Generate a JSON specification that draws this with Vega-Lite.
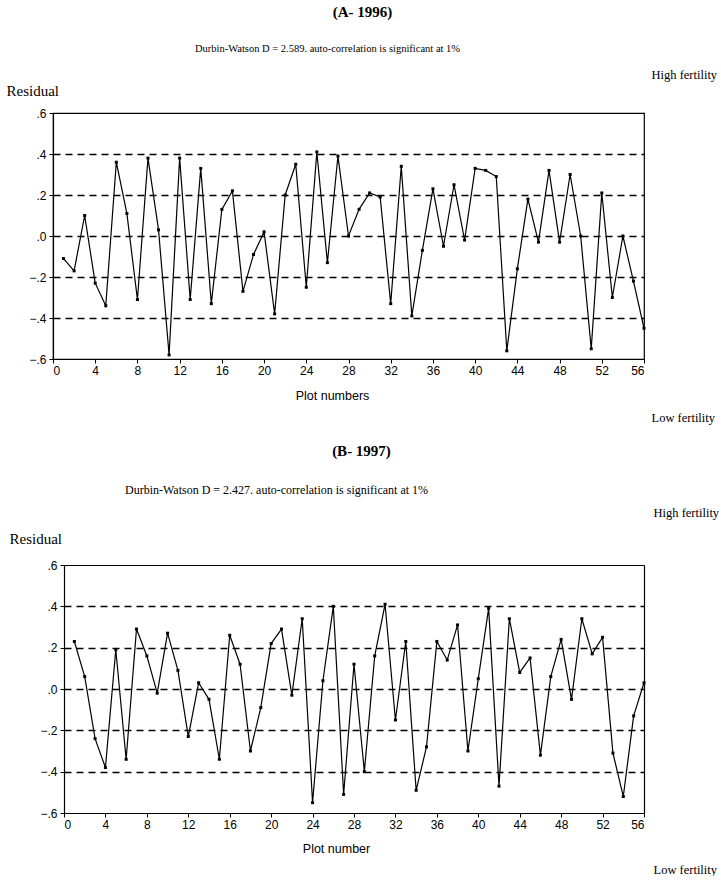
{
  "$schema": "https://vega.github.io/schema/vega-lite/v6.json",
  "background": "white",
  "padding": {"left": 5, "top": 4, "right": 0, "bottom": 0},
  "datasets": {
    "a": [
      {"plot": 1, "residual": -0.11}, {"plot": 2, "residual": -0.17}, {"plot": 3, "residual": 0.10}, {"plot": 4, "residual": -0.23},
      {"plot": 5, "residual": -0.34}, {"plot": 6, "residual": 0.36}, {"plot": 7, "residual": 0.11}, {"plot": 8, "residual": -0.31},
      {"plot": 9, "residual": 0.38}, {"plot": 10, "residual": 0.03}, {"plot": 11, "residual": -0.58}, {"plot": 12, "residual": 0.38},
      {"plot": 13, "residual": -0.31}, {"plot": 14, "residual": 0.33}, {"plot": 15, "residual": -0.33}, {"plot": 16, "residual": 0.13},
      {"plot": 17, "residual": 0.22}, {"plot": 18, "residual": -0.27}, {"plot": 19, "residual": -0.09}, {"plot": 20, "residual": 0.02},
      {"plot": 21, "residual": -0.38}, {"plot": 22, "residual": 0.20}, {"plot": 23, "residual": 0.35}, {"plot": 24, "residual": -0.25},
      {"plot": 25, "residual": 0.41}, {"plot": 26, "residual": -0.13}, {"plot": 27, "residual": 0.39}, {"plot": 28, "residual": 0.00},
      {"plot": 29, "residual": 0.13}, {"plot": 30, "residual": 0.21}, {"plot": 31, "residual": 0.19}, {"plot": 32, "residual": -0.33},
      {"plot": 33, "residual": 0.34}, {"plot": 34, "residual": -0.39}, {"plot": 35, "residual": -0.07}, {"plot": 36, "residual": 0.23},
      {"plot": 37, "residual": -0.05}, {"plot": 38, "residual": 0.25}, {"plot": 39, "residual": -0.02}, {"plot": 40, "residual": 0.33},
      {"plot": 41, "residual": 0.32}, {"plot": 42, "residual": 0.29}, {"plot": 43, "residual": -0.56}, {"plot": 44, "residual": -0.16},
      {"plot": 45, "residual": 0.18}, {"plot": 46, "residual": -0.03}, {"plot": 47, "residual": 0.32}, {"plot": 48, "residual": -0.03},
      {"plot": 49, "residual": 0.30}, {"plot": 50, "residual": 0.00}, {"plot": 51, "residual": -0.55}, {"plot": 52, "residual": 0.21},
      {"plot": 53, "residual": -0.30}, {"plot": 54, "residual": 0.00}, {"plot": 55, "residual": -0.22}, {"plot": 56, "residual": -0.45}
    ],
    "b": [
      {"plot": 1, "residual": 0.23}, {"plot": 2, "residual": 0.06}, {"plot": 3, "residual": -0.24}, {"plot": 4, "residual": -0.38},
      {"plot": 5, "residual": 0.19}, {"plot": 6, "residual": -0.34}, {"plot": 7, "residual": 0.29}, {"plot": 8, "residual": 0.16},
      {"plot": 9, "residual": -0.02}, {"plot": 10, "residual": 0.27}, {"plot": 11, "residual": 0.09}, {"plot": 12, "residual": -0.23},
      {"plot": 13, "residual": 0.03}, {"plot": 14, "residual": -0.05}, {"plot": 15, "residual": -0.34}, {"plot": 16, "residual": 0.26},
      {"plot": 17, "residual": 0.12}, {"plot": 18, "residual": -0.30}, {"plot": 19, "residual": -0.09}, {"plot": 20, "residual": 0.22},
      {"plot": 21, "residual": 0.29}, {"plot": 22, "residual": -0.03}, {"plot": 23, "residual": 0.34}, {"plot": 24, "residual": -0.55},
      {"plot": 25, "residual": 0.04}, {"plot": 26, "residual": 0.40}, {"plot": 27, "residual": -0.51}, {"plot": 28, "residual": 0.12},
      {"plot": 29, "residual": -0.40}, {"plot": 30, "residual": 0.16}, {"plot": 31, "residual": 0.41}, {"plot": 32, "residual": -0.15},
      {"plot": 33, "residual": 0.23}, {"plot": 34, "residual": -0.49}, {"plot": 35, "residual": -0.28}, {"plot": 36, "residual": 0.23},
      {"plot": 37, "residual": 0.14}, {"plot": 38, "residual": 0.31}, {"plot": 39, "residual": -0.30}, {"plot": 40, "residual": 0.05},
      {"plot": 41, "residual": 0.39}, {"plot": 42, "residual": -0.47}, {"plot": 43, "residual": 0.34}, {"plot": 44, "residual": 0.08},
      {"plot": 45, "residual": 0.15}, {"plot": 46, "residual": -0.32}, {"plot": 47, "residual": 0.06}, {"plot": 48, "residual": 0.24},
      {"plot": 49, "residual": -0.05}, {"plot": 50, "residual": 0.34}, {"plot": 51, "residual": 0.17}, {"plot": 52, "residual": 0.25},
      {"plot": 53, "residual": -0.31}, {"plot": 54, "residual": -0.52}, {"plot": 55, "residual": -0.13}, {"plot": 56, "residual": 0.03}
    ]
  },
  "spacing": 19,
  "vconcat": [
    {
      "title": {"text": "(A- 1996)", "dx": 14, "offset": 23},
      "width": 591,
      "height": 246,
      "data": {"name": "a"},
      "layer": [
        {
          "mark": {"type": "line", "color": "black", "strokeWidth": 1.2},
          "encoding": {
            "x": {"field": "plot", "type": "quantitative", "scale": {"domain": [0, 56], "nice": false},
              "axis": {"orient": "bottom", "values": [0, 4, 8, 12, 16, 20, 24, 28, 32, 36, 40, 44, 48, 52, 56], "tickSize": 4, "labelPadding": 2,
                "title": "Plot numbers", "titleFont": "Liberation Sans", "titleFontSize": 12.5, "titleX": 279, "titleY": 36, "titleAlign": "center", "titleBaseline": "middle"}},
            "y": {"field": "residual", "type": "quantitative", "scale": {"domain": [-0.6, 0.6], "nice": false},
              "axis": {"orient": "left", "values": [-0.6, -0.4, -0.2, 0, 0.2, 0.4, 0.6], "labelExpr": "replace(format(datum.value, '.1f'), '0.', '.')",
                "tickSize": 4, "labelPadding": 3,
                "grid": true, "gridDash": [7, 5], "gridColor": "black", "gridWidth": 1.3,
                "gridOpacity": {"condition": {"test": "abs(datum.value) > 0.5", "value": 0}, "value": 1},
                "title": "Residual", "titleAngle": 0, "titleAlign": "left", "titleBaseline": "middle", "titleX": -47, "titleY": -23,
                "titleFont": "Liberation Serif", "titleFontSize": 15}}
          }
        },
        {
          "mark": {"type": "point", "shape": "square", "filled": true, "color": "black", "size": 9, "opacity": 1},
          "encoding": {
            "x": {"field": "plot", "type": "quantitative",
              "axis": {"orient": "top", "labels": false, "ticks": false, "domain": false, "grid": false,
                "title": "Durbin-Watson  D = 2.589.  auto-correlation is significant at 1%", "titleFont": "Liberation Serif", "titleFontSize": 10.5,
                "titleX": 274, "titleY": -65, "titleAlign": "center", "titleBaseline": "middle"}},
            "y": {"field": "residual", "type": "quantitative",
              "axis": {"orient": "right", "labels": false, "ticks": false, "domain": false, "grid": false,
                "title": ["High fertility", "Low fertility"], "titleAngle": 0, "titleAlign": "left", "titleBaseline": "top",
                "titleX": 7, "titleY": -45, "titleLineHeight": 343, "titleFont": "Liberation Serif", "titleFontSize": 12.5}}
          }
        }
      ],
      "resolve": {"axis": {"x": "independent", "y": "independent"}}
    },
    {
      "title": {"text": "(B- 1997)", "dx": 13, "offset": 24},
      "width": 591,
      "height": 248,
      "view": {"stroke": null},
      "data": {"name": "b"},
      "layer": [
        {
          "mark": {"type": "line", "color": "black", "strokeWidth": 1.2},
          "encoding": {
            "x": {"field": "plot", "type": "quantitative", "scale": {"domain": [0, 56], "nice": false, "range": [11, 591]},
              "axis": {"orient": "bottom", "values": [0, 4, 8, 12, 16, 20, 24, 28, 32, 36, 40, 44, 48, 52, 56], "tickSize": 4, "labelPadding": 2,
                "title": "Plot number", "titleFont": "Liberation Sans", "titleFontSize": 12.5, "titleX": 283, "titleY": 35, "titleAlign": "center", "titleBaseline": "middle"}},
            "y": {"field": "residual", "type": "quantitative", "scale": {"domain": [-0.6, 0.6], "nice": false},
              "axis": {"orient": "left", "offset": -11, "values": [-0.6, -0.4, -0.2, 0, 0.2, 0.4, 0.6], "labelExpr": "replace(format(datum.value, '.1f'), '0.', '.')",
                "tickSize": 4, "labelPadding": 3,
                "grid": true, "gridDash": [7, 5], "gridColor": "black", "gridWidth": 1.3,
                "gridOpacity": {"condition": {"test": "abs(datum.value) > 0.5", "value": 0}, "value": 1},
                "title": "Residual", "titleAngle": 0, "titleAlign": "left", "titleBaseline": "middle", "titleX": -55, "titleY": -27,
                "titleFont": "Liberation Serif", "titleFontSize": 15}}
          }
        },
        {
          "mark": {"type": "point", "shape": "square", "filled": true, "color": "black", "size": 9, "opacity": 1},
          "encoding": {
            "x": {"field": "plot", "type": "quantitative",
              "axis": {"orient": "top", "labels": false, "ticks": false, "domain": true, "grid": false,
                "title": "Durbin-Watson  D = 2.427.  auto-correlation is significant at 1%", "titleFont": "Liberation Serif", "titleFontSize": 12,
                "titleX": 223, "titleY": -76, "titleAlign": "center", "titleBaseline": "middle"}},
            "y": {"field": "residual", "type": "quantitative",
              "axis": {"orient": "right", "labels": false, "ticks": false, "domain": true, "grid": false,
                "title": ["High fertility", "Low fertility"], "titleAngle": 0, "titleAlign": "left", "titleBaseline": "top",
                "titleX": 9, "titleY": -59, "titleLineHeight": 357, "titleFont": "Liberation Serif", "titleFontSize": 12.5}}
          }
        }
      ],
      "resolve": {"axis": {"x": "independent", "y": "independent"}}
    }
  ],
  "config": {
    "view": {"stroke": "black", "strokeWidth": 1.2},
    "axis": {"domainColor": "black", "domainWidth": 1.2, "tickColor": "black", "labelColor": "black", "titleColor": "black",
      "labelFont": "Liberation Sans", "labelFontSize": 12, "titleFontWeight": "normal", "grid": false},
    "title": {"font": "Liberation Serif", "fontSize": 15, "fontWeight": "bold", "color": "black", "anchor": "middle"}
  }
}
